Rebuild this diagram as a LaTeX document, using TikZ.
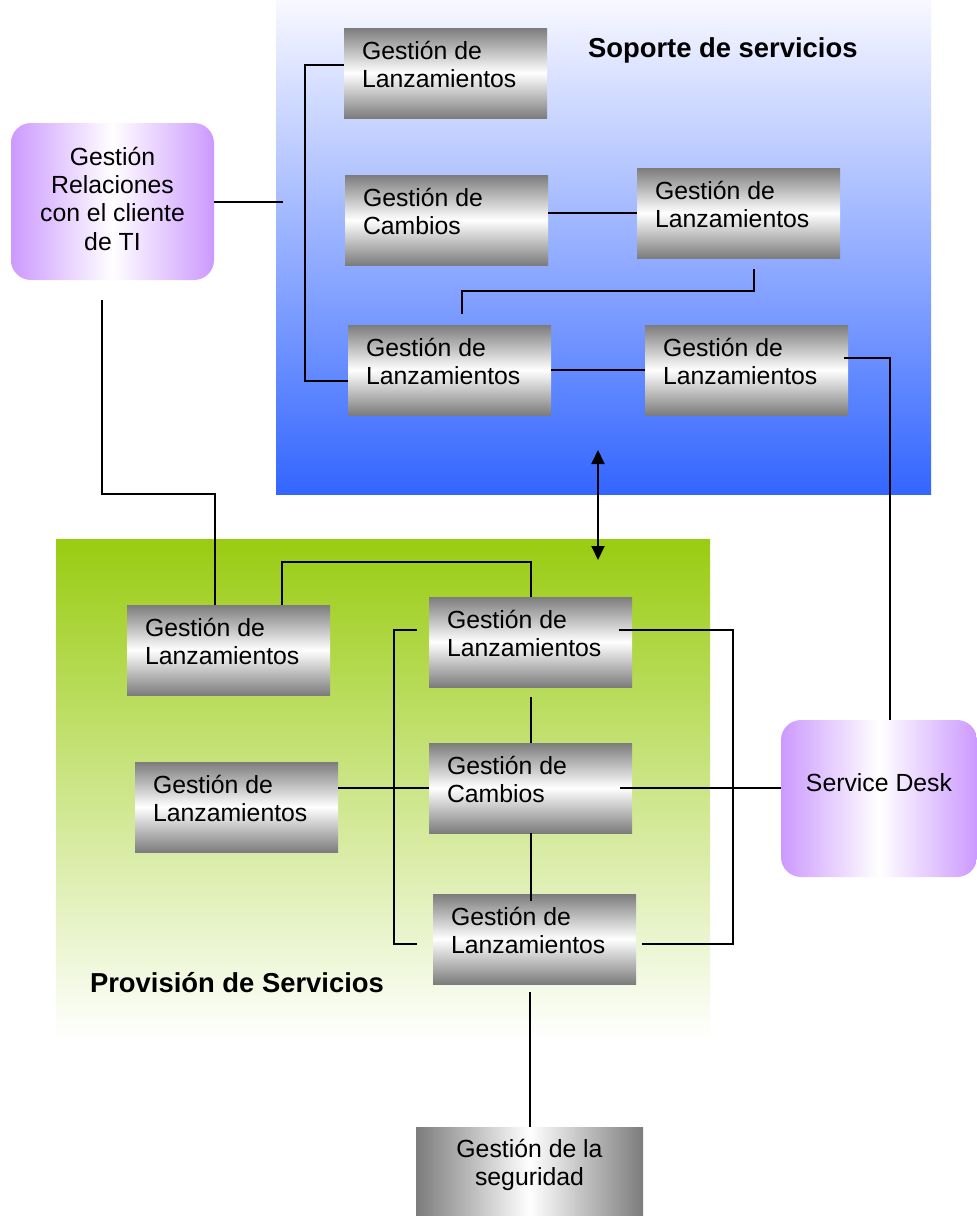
\documentclass[tikz,border=0pt]{standalone}
\usepackage{fontspec}
\setmainfont{Liberation Sans}
\usetikzlibrary{arrows.meta}

\definecolor{boxgray}{RGB}{124,124,124}
\definecolor{lilac}{RGB}{204,153,255}
\definecolor{sopTop}{RGB}{248,248,255}
\definecolor{sopBot}{RGB}{51,102,255}
\definecolor{provTop}{RGB}{153,204,17}

\newcommand\boxfont{\fontsize{24.8}{28.4}\selectfont}
\newcommand\titlefont{\fontsize{27.4}{32}\selectfont\bfseries}
% two-line, left-aligned label of a process box
\newcommand\procl[1]{\parbox[t]{203pt}{\boxfont\raggedright\leftskip=18pt\relax #1}}
% centred label of given width
\newcommand\centl[2]{\parbox[t]{#1}{\boxfont\centering #2}}

\begin{document}
\begin{tikzpicture}[x=1pt,y=-1pt,
  every node/.style={inner sep=0pt, outer sep=0pt},
  proc/.style={anchor=north west, minimum width=203pt,
    text height=31.5pt, text depth=58.5pt,
    top color=boxgray, bottom color=boxgray, middle color=white},
  hproc/.style={anchor=north west, minimum width=227pt,
    left color=boxgray, right color=boxgray, middle color=white},
  role/.style={anchor=north west, rounded corners=20pt,
    left color=lilac, right color=lilac, middle color=white},
  conn/.style={draw=black, line width=2pt},
  dbl/.style={line width=2pt,
    {Triangle[width=13pt,length=14pt]}-{Triangle[width=13pt,length=14pt]}},
  title/.style={anchor=base west, font=\titlefont}
]
\useasboundingbox (0,0) rectangle (977,1216);
\fill[white] (0,0) rectangle (977,1216);

% service areas
\shade[top color=sopTop, bottom color=sopBot] (276,0) rectangle (931,494);
\shade[top color=provTop, bottom color=white] (56,539) rectangle (710,1040);

\node[title] (soptitle) at (588,57) {Soporte de servicios};
\node[title] (provtitle) at (90,992) {Provisión de Servicios};

% service support processes
\node[proc] (b1) at (344,28)  {\procl{Gestión de\\Lanzamientos}};
\node[proc] (b2) at (345,175) {\procl{Gestión de\\Cambios}};
\node[proc] (b3) at (637,168) {\procl{Gestión de\\Lanzamientos}};
\node[proc] (b4) at (348,325) {\procl{Gestión de\\Lanzamientos}};
\node[proc] (b5) at (645,325) {\procl{Gestión de\\Lanzamientos}};

% service delivery processes
\node[proc] (g1) at (127,605) {\procl{Gestión de\\Lanzamientos}};
\node[proc] (g2) at (429,597) {\procl{Gestión de\\Lanzamientos}};
\node[proc] (g3) at (429,743) {\procl{Gestión de\\Cambios}};
\node[proc] (g4) at (135,762) {\procl{Gestión de\\Lanzamientos}};
\node[proc] (g5) at (433,894) {\procl{Gestión de\\Lanzamientos}};

% security management
\node[hproc, text height=30pt, text depth=59pt] (sec) at (416,1127)
  {\centl{227pt}{Gestión de la\\seguridad}};

% roles
\node[role, text height=42pt, text depth=115pt] (p1) at (11,123)
  {\centl{203pt}{Gestión\\Relaciones\\con el cliente\\de TI}};
\node[role, text height=71pt, text depth=86pt] (sd) at (781,720)
  {\centl{196pt}{Service Desk}};

\coordinate (p1end) at ([shift={(69,0)}]p1.east);
\coordinate (arrtop) at (598,450);
\coordinate (arrbot) at (598,560);

% connectors in the support area
\draw[conn] (p1.east) -- (p1end);
\draw[conn] ([shift={(0,-8)}]b1.west) -| (305,381) -- ([shift={(0,11)}]b4.west);
\draw[conn] (b2.east |- b3.west) -- (b3.west);
\draw[conn] ([shift={(15.5,11)}]b3.south) -- ++(0,22) -| ([shift={(12.5,-11)}]b4.north);
\draw[conn] (b4.east) -- (b5.west);
\draw[conn] ([shift={(-4,-12)}]b5.east) -| ([shift={(11,0)}]sd.north);

% connectors in the delivery area
\draw[conn] ([shift={(-11,20)}]p1.south) |- (214.5,494) -- ([shift={(-14,0)}]g1.north);
\draw[conn] ([shift={(53.5,0)}]g1.north) -- ++(0,-43) -| (g2.north);
\draw[conn] ([shift={(-12,-12)}]g2.west) -| (394,944) -- ([shift={(-16,5)}]g5.west);
\draw[conn] ([shift={(-13,-12)}]g2.east) -| (733,944) -- ([shift={(6,5)}]g5.east);
\draw[conn] ([shift={(0,10)}]g2.south) -- (g3.north);
\draw[conn] (g3.south) -- ([shift={(-4,7)}]g5.north);
\draw[conn] (g4.east |- g3.west) -- (g3.west);
\draw[conn] ([shift={(-12,0)}]g3.east) -- (sd.west |- g3.east);
\draw[conn] (sec.north) -- ++(0,-135);

% link between the two areas
\draw[dbl] (arrtop) -- (arrbot);
\end{tikzpicture}
\end{document}
